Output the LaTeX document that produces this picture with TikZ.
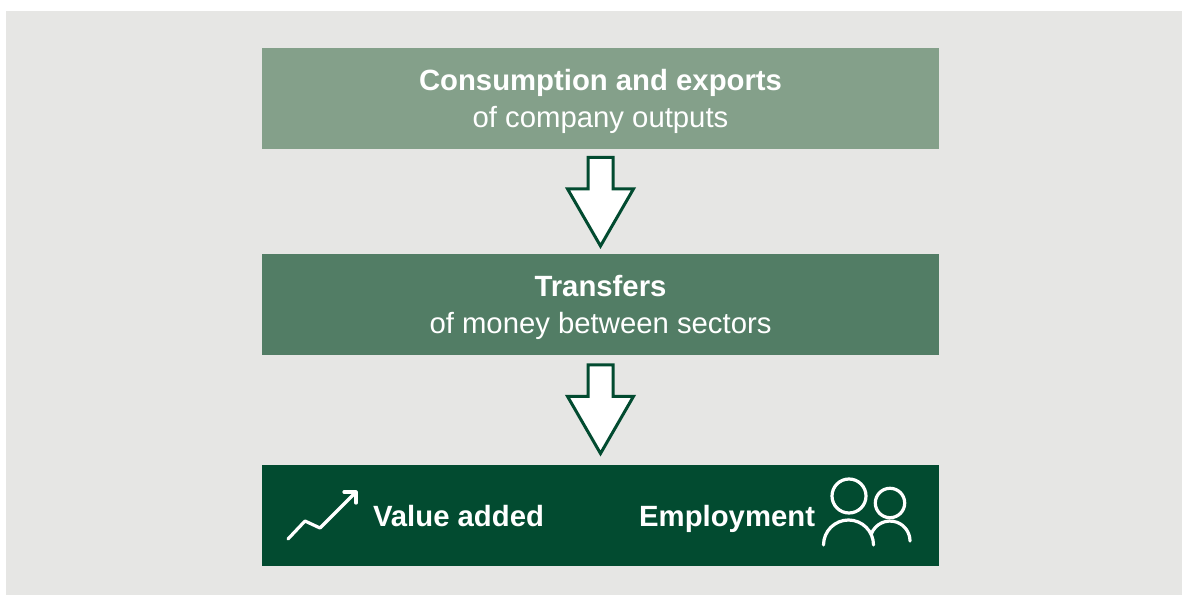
\documentclass[tikz,border=0pt]{standalone}
\usepackage{fontspec}
\setmainfont{Liberation Sans}
\usetikzlibrary{positioning}
\usetikzlibrary{shapes.arrows}
\definecolor{panelgray}{HTML}{E6E6E4}
\definecolor{lightgreen}{HTML}{84A08A}
\definecolor{midgreen}{HTML}{527D65}
\definecolor{darkgreen}{HTML}{024B30}
\tikzset{x=1pt, y=1pt,
every node/.style={outer sep=0pt, inner sep=0pt},
box/.style={ % Sets the properties for each band
minimum width=677pt,
minimum height=101pt,
text=white,
align=center,
font=\fontsize{29.3}{37}\selectfont},
down/.style={ % Block arrow pointing down
draw=darkgreen,
fill=white,
line width=3pt,
single arrow,
shape border rotate=270,
inner sep=11pt,
minimum height=88.5pt,
minimum width=65pt,
single arrow head extend=20.5pt,
single arrow tip angle=60},
label/.style={text=white, font=\fontsize{29.3}{32}\selectfont\bfseries},
icon/.style={draw=white, line width=3.2pt, line cap=round, line join=round}}

\begin{document}
\begin{tikzpicture}
\useasboundingbox (0,0) rectangle (1182,595);
\fill[panelgray] (6,0) rectangle (1182,584);
\node[box, fill=lightgreen] (consumption) at (600.5,496) {\rule{0pt}{27pt}\textbf{Consumption and exports}\\of company outputs};
\node[box, fill=midgreen] (transfers) at (600.5,290.5) {\rule{0pt}{27pt}\textbf{Transfers}\\of money between sectors};
\node[box, fill=darkgreen] (results) at (600.5,79.5) {};
\node[down, below=8pt of consumption] (arrowA) {};
\node[down, above=11.5pt of results] (arrowB) {};
\node[label, anchor=base west] (value) at (373,69) {Value added};
\node[label, anchor=base east] (employment) at (815,69) {Employment};
% trend icon
\draw[icon] (288,56) -- (305,74) -- (320,67) -- (355,102);
\draw[icon] (344,103) -- (356,103) -- (356,92);
% people icon
\draw[icon] (849,99) circle (17);
\draw[icon] (890,92) circle (14.7);
\draw[icon] (823.5,50) arc (180:0:25);
\draw[icon] (871.2,60.8) arc (160:0:20);
\end{tikzpicture}
\end{document}
